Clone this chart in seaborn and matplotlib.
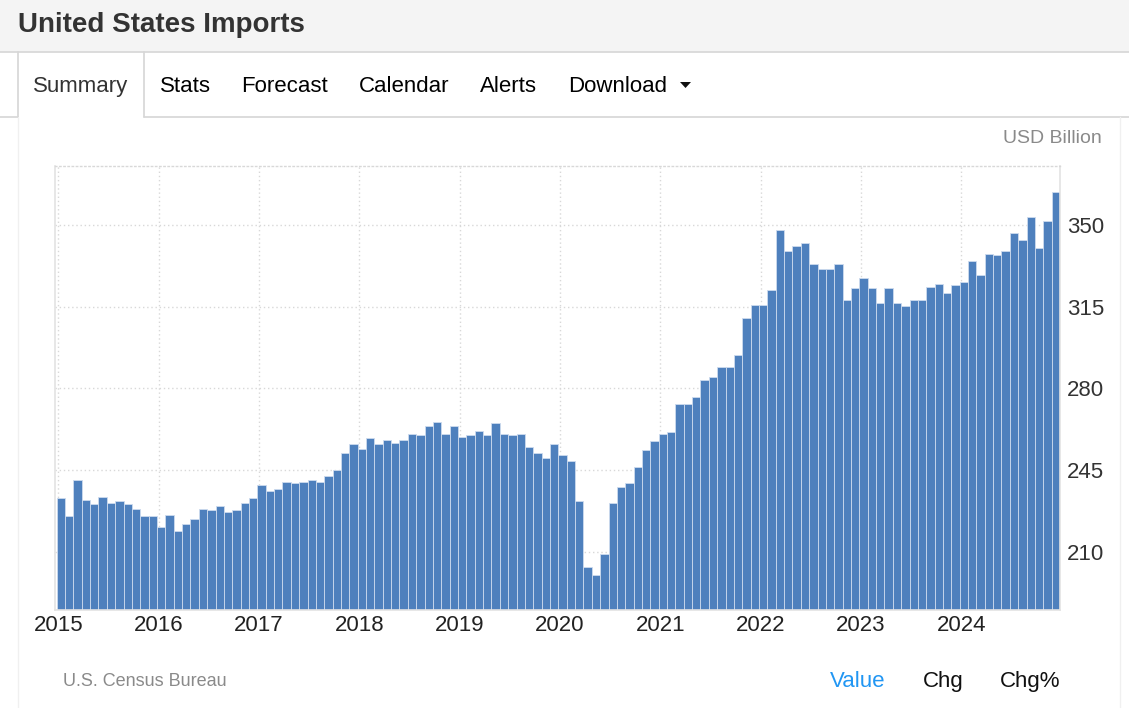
import matplotlib
matplotlib.use('Agg')
import matplotlib.pyplot as plt
import seaborn as sns
import pandas as pd
from matplotlib.patches import Rectangle, Polygon
from matplotlib.lines import Line2D

# monthly US imports, USD billion
imports_2015 = [232.9, 225.2, 240.6, 232.2, 230.3, 233.5, 230.9, 231.6, 230.3, 228.3, 225.2, 225.2]
imports_2016 = [220.6, 225.8, 218.8, 221.9, 223.9, 228.3, 227.8, 229.6, 227.0, 227.8, 230.9, 232.9]
imports_2017 = [238.6, 236.2, 236.8, 239.9, 239.3, 239.9, 240.6, 239.9, 242.5, 245.0, 252.2, 256.0]
imports_2018 = [254.0, 258.6, 256.0, 257.9, 256.6, 257.9, 260.5, 259.9, 263.8, 265.6, 260.5, 263.8]
imports_2019 = [259.2, 259.9, 261.7, 259.9, 265.0, 260.5, 259.9, 260.5, 254.7, 252.2, 250.2, 256.0]
imports_2020 = [251.5, 248.9, 231.6, 203.3, 200.2, 209.0, 230.9, 237.9, 239.3, 246.3, 253.5, 257.3]
imports_2021 = [260.5, 261.2, 273.3, 273.3, 276.4, 283.6, 284.9, 289.3, 289.3, 294.4, 310.0, 315.7]
imports_2022 = [315.7, 322.2, 347.9, 339.0, 340.9, 342.2, 333.2, 331.2, 331.2, 333.2, 317.7, 322.9]
imports_2023 = [327.3, 322.9, 316.5, 322.9, 316.5, 315.2, 317.7, 317.7, 323.4, 324.7, 320.9, 324.2]
imports_2024 = [325.5, 334.4, 328.6, 337.6, 337.0, 339.0, 346.6, 343.4, 353.6, 340.1, 351.7, 364.0]

years = ['2015', '2016', '2017', '2018', '2019', '2020', '2021', '2022', '2023', '2024']
y_ticks = [210, 245, 280, 315, 350]
tabs = ['Summary', 'Stats', 'Forecast', 'Calendar', 'Alerts', 'Download']

values = (imports_2015 + imports_2016 + imports_2017 + imports_2018 + imports_2019
          + imports_2020 + imports_2021 + imports_2022 + imports_2023 + imports_2024)
months = pd.date_range('2015-01-01', periods=len(values), freq='MS').strftime('%Y-%m')
df = pd.DataFrame({'month': months, 'value': values})

sns.set_style('white')
plt.rcParams['font.family'] = ['Liberation Sans', 'DejaVu Sans']

W, H = 1129, 708


def fx(x):
    return x / W


def fy(y):
    return 1 - y / H


fig = plt.figure(figsize=(W / 100, H / 100), dpi=100)
fig.patch.set_facecolor('white')

# page header + tab bar
fig.patches.append(Rectangle((0, fy(52)), 1, 52 / H, transform=fig.transFigure,
                             facecolor='#f4f4f4', edgecolor='none', zorder=0))
line_kw = dict(transform=fig.transFigure, color='#d6d6d6', linewidth=1.2)
fig.lines.append(Line2D([0, 1], [fy(52), fy(52)], **line_kw))
fig.lines.append(Line2D([0, fx(17.5)], [fy(116.5), fy(116.5)], **line_kw))
fig.lines.append(Line2D([fx(144), 1], [fy(116.5), fy(116.5)], **line_kw))
fig.lines.append(Line2D([fx(17.5), fx(17.5)], [fy(52), fy(116.5)], **line_kw))
fig.lines.append(Line2D([fx(144), fx(144)], [fy(52), fy(116.5)], **line_kw))
fig.lines.append(Line2D([fx(17.5), fx(17.5)], [fy(116.5), 0], transform=fig.transFigure,
                        color='#f0f0f0', linewidth=1))
fig.lines.append(Line2D([fx(1120), fx(1120)], [fy(116.5), 0], transform=fig.transFigure,
                        color='#f0f0f0', linewidth=1))

fig.text(fx(18), fy(32), 'United States Imports', fontsize=20, fontweight='bold',
         color='#333333', va='baseline', ha='left')

tab_x = [33, 160, 241, 359, 480, 568]
for name, x in zip(tabs, tab_x):
    fig.text(fx(x), fy(92), name, fontsize=16, va='baseline', ha='left',
             color='#333333' if name == 'Summary' else '#000000')
fig.patches.append(Polygon([[fx(680), fy(82)], [fx(691), fy(82)], [fx(685.5), fy(88)]],
                           closed=True, transform=fig.transFigure, facecolor='#111111',
                           edgecolor='none'))

fig.text(fx(1102), fy(143), 'USD Billion', fontsize=14, color='#8a8a8a',
         va='baseline', ha='right')

# chart
ax = fig.add_axes([fx(55), fy(609.5), fx(1060) - fx(55), (609.5 - 165.7) / H])
sns.barplot(data=df, x='month', y='value', color='#4e80bd', saturation=1, width=1,
            edgecolor='#cddbee', linewidth=0.6, ax=ax)

ax.set_xlim(-0.7, len(values) - 0.5)
ax.set_ylim(185.3, 375.4)
ax.set_xticks([12 * k - 0.3 for k in range(len(years))])
ax.set_xticklabels(years)
ax.set_yticks(y_ticks)
ax.yaxis.tick_right()
ax.tick_params(axis='x', length=0, labelsize=16, pad=4, labelcolor='#222222')
ax.tick_params(axis='y', length=0, labelsize=16, pad=5, labelcolor='#333333')
ax.set_xlabel('')
ax.set_ylabel('')

ax.grid(True, linestyle=(0, (1, 2)), color='#d8d8d8', linewidth=1)
ax.set_axisbelow(True)
for side in ['left', 'right', 'bottom']:
    ax.spines[side].set_color('#e3e3e3')
    ax.spines[side].set_linewidth(1.2)
ax.spines['top'].set_color('#d8d8d8')
ax.spines['top'].set_linestyle((0, (1, 2)))
ax.spines['top'].set_linewidth(1)

# footer
fig.text(fx(63), fy(686), 'U.S. Census Bureau', fontsize=13, color='#8a8a8a',
         va='baseline', ha='left')
fig.text(fx(830), fy(687), 'Value', fontsize=16, color='#2196f3', va='baseline', ha='left')
fig.text(fx(923), fy(687), 'Chg', fontsize=16, color='#111111', va='baseline', ha='left')
fig.text(fx(1000), fy(687), 'Chg%', fontsize=16, color='#111111', va='baseline', ha='left')

fig.savefig('out.png', dpi=100)
